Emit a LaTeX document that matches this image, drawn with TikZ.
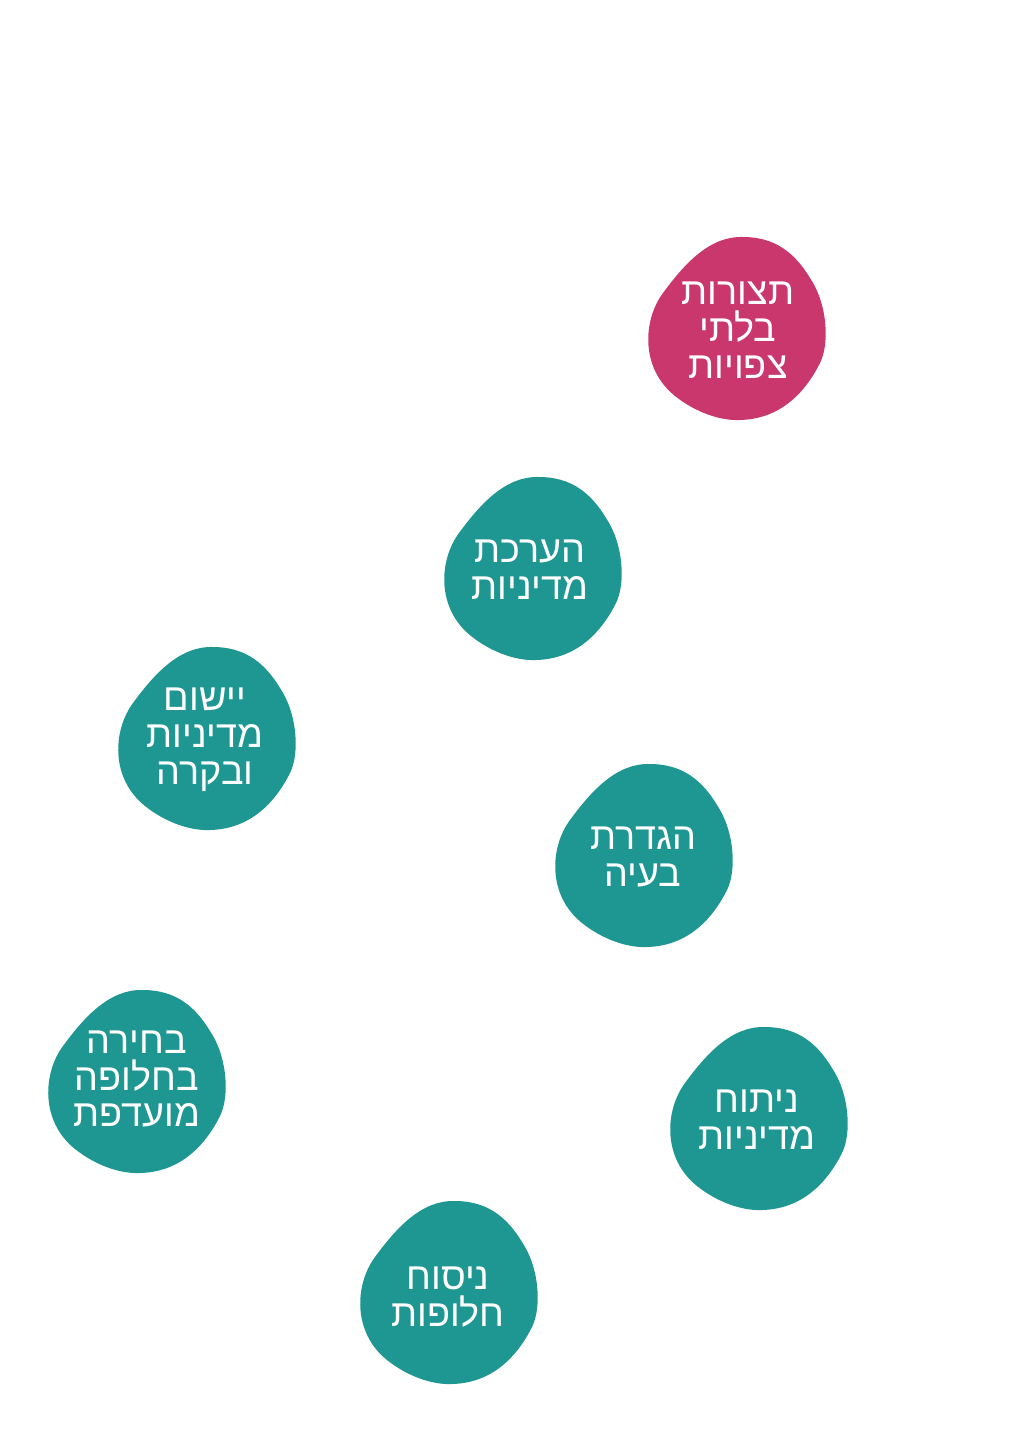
\documentclass[tikz,border=0pt]{standalone}
\usepackage{fontspec}
\newfontfamily\hebfont[Script=Hebrew]{Liberation Sans}
\TeXXeTstate=1
\definecolor{blobteal}{HTML}{1E9692}
\definecolor{blobpink}{HTML}{C9376D}

\begin{document}
\begin{tikzpicture}[
  x=0.02cm, y=-0.02cm,
  font=\hebfont\fontsize{21.5}{21}\selectfont,
  blob/.pic={
    \fill (8,-91) .. controls (-25,-92) and (-50,-65) .. (-72,-35)
      .. controls (-92,-8) and (-95,40) .. (-60,68)
      .. controls (-40,84) and (-15,93) .. (5,92)
      .. controls (45,91) and (70,65) .. (85,35)
      .. controls (95,15) and (92,-25) .. (75,-50)
      .. controls (60,-75) and (40,-91) .. (8,-91) -- cycle;
  },
  blobtext/.style={text=white, align=center, inner sep=0pt}
]
\useasboundingbox (0,0) rectangle (1014,1453);

% blobs
\pic[blobpink] at (735,328) {blob};
\pic[blobteal] at (531,568) {blob};
\pic[blobteal] at (205,738) {blob};
\pic[blobteal] at (642,855) {blob};
\pic[blobteal] at (135,1081) {blob};
\pic[blobteal] at (757,1118) {blob};
\pic[blobteal] at (447,1292) {blob};

% labels
\node[blobtext] (unexpected) at (738,330)
  {\beginR תצורות\endR\\\beginR בלתי\endR\\\beginR צפויות\endR};
\node[blobtext] (evaluation) at (530,570)
  {\beginR הערכת\endR\\\beginR מדיניות\endR};
\node[blobtext] (implement) at (205,740)
  {\beginR יישום\endR\\\beginR מדיניות\endR\\\beginR ובקרה\endR};
\node[blobtext] (problem) at (643,857)
  {\beginR הגדרת\endR\\\beginR בעיה\endR};
\node[blobtext] (choice) at (137,1079)
  {\beginR בחירה\endR\\\beginR בחלופה\endR\\\beginR מועדפת\endR};
\node[blobtext] (analysis) at (757,1120)
  {\beginR ניתוח\endR\\\beginR מדיניות\endR};
\node[blobtext] (drafting) at (448,1297)
  {\beginR ניסוח\endR\\\beginR חלופות\endR};
\end{tikzpicture}
\end{document}
